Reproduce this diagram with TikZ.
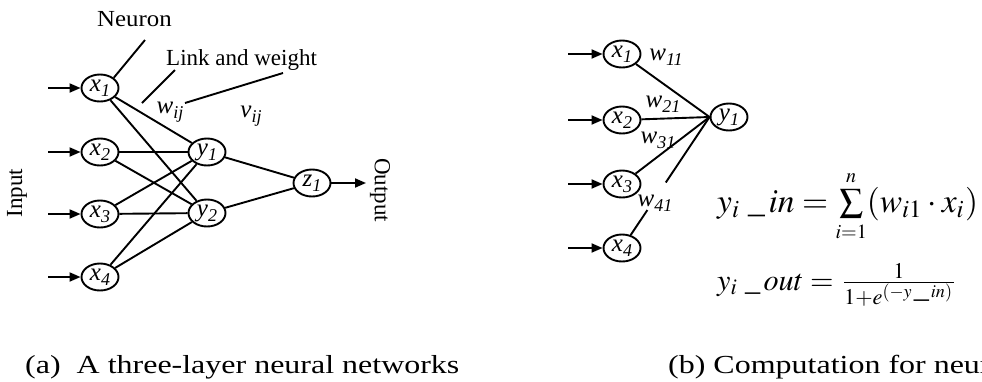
\documentclass[tikz,border=0pt]{standalone}
\usepackage{mathptmx}
\usepackage{fontspec}
\setmainfont{Liberation Serif}
\usepackage{graphicx}
\usetikzlibrary{shapes.geometric,arrows.meta,calc}

% italic symbol with a lowered italic index, as used inside the neurons
\newcommand\idx[2]{\textit{#1}\raisebox{-0.45ex}{\scalebox{0.72}{\textit{#2}}}}

\tikzset{
  neuron/.style={ellipse, draw, line width=1.9pt, minimum width=37pt,
    minimum height=27pt, inner sep=0pt, font=\fontsize{25}{25}\selectfont},
  link/.style={line width=1.9pt},
  feed/.style={line width=1.9pt, -{Triangle[length=11pt,width=9pt]}},
  lbl/.style={font=\fontsize{23}{26}\selectfont, inner sep=0pt},
  wlbl/.style={font=\fontsize{25}{26}\selectfont, inner sep=0pt},
  captext/.style={font=\fontsize{26}{28}\selectfont, inner sep=0pt, anchor=base west},
}

\begin{document}
\begin{tikzpicture}[x=1pt,y=-1pt]
\useasboundingbox (0,0) rectangle (982,381);
\clip (0,0) rectangle (982,381);

% ---------- (a) three-layer network ----------
\node[neuron] (x1) at (100,88)  {\idx{x}{1}};
\node[neuron] (x2) at (100,152) {\idx{x}{2}};
\node[neuron] (x3) at (100,214) {\idx{x}{3}};
\node[neuron] (x4) at (100,277) {\idx{x}{4}};
\node[neuron] (y1) at (207,152) {\idx{y}{1}};
\node[neuron] (y2) at (207,213) {\idx{y}{2}};
\node[neuron] (z1) at (312,183) {\idx{z}{1}};

\coordinate (in1) at (48,88);
\coordinate (in2) at (48,152);
\coordinate (in3) at (48,214);
\coordinate (in4) at (48,277);
\foreach \i in {1,...,4} \draw[feed] (in\i) -- (x\i);
\coordinate (outEnd) at (366,183);
\draw[feed] (z1) -- (outEnd);

\foreach \i in {1,...,4}
  \foreach \j in {1,2}
    \draw[link] (x\i) -- (y\j);
\draw[link] (y1) -- (z1);
\draw[link] (y2) -- (z1);

\node[lbl, rotate=90] (inputLbl) at (17,193) {Input};
\node[lbl, rotate=-90] (outputLbl) at (380,190) {Output};

\node[lbl, anchor=base west] (neuronLbl) at (97,26.7) {\scalebox{1.08}[1]{Neuron}};
\coordinate (neuronEnd) at (145,40);
\draw[link] (x1.north east) -- (neuronEnd);

\node[lbl, anchor=base west] (linkLbl) at (166,65) {Link and weight};
\coordinate (lwA1) at (142,103);
\coordinate (lwA2) at (175,70);
\coordinate (lwB1) at (185,103);
\coordinate (lwB2) at (283,73);
\draw[link] (lwA1) -- (lwA2);
\draw[link] (lwB1) -- (lwB2);

\node[wlbl] (wij) at (170,112) {\idx{w}{ij}};
\node[wlbl] (vij) at (251,116) {\idx{v}{ij}};

% ---------- (b) single neuron ----------
\node[neuron] (a1) at (622,54)  {\idx{x}{1}};
\node[neuron] (a2) at (622,120) {\idx{x}{2}};
\node[neuron] (a3) at (622,184) {\idx{x}{3}};
\node[neuron] (a4) at (622,248) {\idx{x}{4}};
\node[neuron] (b1) at (729,117) {\idx{y}{1}};

\coordinate (ain1) at (568,54);
\coordinate (ain2) at (568,120);
\coordinate (ain3) at (568,184);
\coordinate (ain4) at (568,248);
\foreach \i in {1,...,4} \draw[feed] (ain\i) -- (a\i);

\draw[link] (a1) -- (b1.west);
\draw[link] (a2) -- (b1.west);
\draw[link] (a3) -- (b1.west);
\draw[link] (a4) -- ($(a4)!0.29!(b1.west)$);
\draw[link] ($(a4)!0.5!(b1.west)$) -- (b1.west);

\node[wlbl] (w11) at (666,57)  {\idx{w}{11}};
\node[wlbl] (w21) at (663,104) {\idx{w}{21}};
\node[wlbl] (w31) at (658,140) {\idx{w}{31}};
\node[wlbl] (w41) at (655,203) {\idx{w}{41}};

\node[anchor=base west, inner sep=0pt] (fIn) at (717,212)
  {\resizebox{261pt}{!}{$y_{i}\;\_\,in=\sum\limits_{\scriptscriptstyle i=1}^{\scriptscriptstyle n}(w_{i1}\cdot x_{i})$}};
\node[anchor=base west, inner sep=0pt] (fOut) at (717,290)
  {\resizebox{240pt}{!}{$y_{i}\;\_\,out=\frac{1}{1+e^{(-y\,\_\,in)}}$}};

% ---------- captions ----------
\node[captext] (capA) at (25,373) {\scalebox{1.23}[1]{(a)\ \ A three-layer neural networks}};
\node[captext] (capB) at (668,373) {\scalebox{1.23}[1]{(b) Computation for neuron}};
\end{tikzpicture}
\end{document}
